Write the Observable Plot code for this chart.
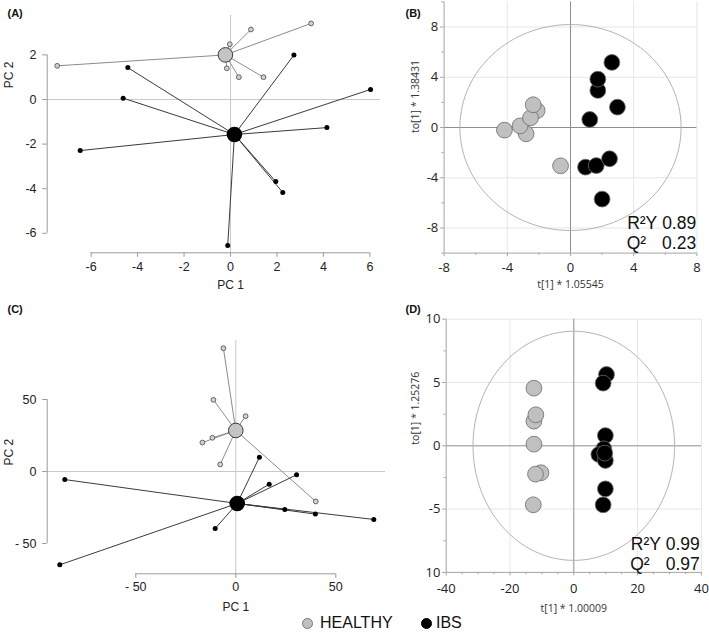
<!DOCTYPE html>
<html>
<head>
<meta charset="utf-8">
<script src="https://cdn.jsdelivr.net/npm/d3@7"></script>
<script src="https://cdn.jsdelivr.net/npm/@observablehq/plot@0.6"></script>
<style>
  body { margin: 0; background: #fff; }
  #wrap { position: relative; width: 709px; height: 632px; overflow: hidden; background: #fff; }
  #wrap svg { position: absolute; left: 0; top: 0; overflow: visible; }
  .lg { position: absolute; font-family: 'Liberation Sans', Arial, sans-serif; font-size: 16px; line-height: 18px; color: #111; }
  .dot { position: absolute; width: 11px; height: 11px; border-radius: 50%; box-sizing: border-box; }
</style>
</head>
<body>
<div id="wrap"></div>
<script>
// ---------------- DATA ----------------
// Panel A (PCA, PC1 vs PC2)
const A_healthy_pc1 = [-7.46, 0.88, 3.47, -0.03, -0.16, 0.36, 1.42];
const A_healthy_pc2 = [1.51, 3.14, 3.41, 2.48, 1.40, 1.00, 1.00];
const A_ibs_pc1 = [-4.42, -4.62, -6.47, 2.73, 6.03, 4.15, 1.95, 2.25, -0.12];
const A_ibs_pc2 = [1.43, 0.06, -2.29, 1.99, 0.45, -1.26, -3.68, -4.17, -6.55];
const A_healthy_centroid = [-0.22, 2.0];
const A_ibs_centroid = [0.17, -1.57];
const A_xticks = [-6, -4, -2, 0, 2, 4, 6];
const A_yticks = [-6, -4, -2, 0, 2];

// Panel B (OPLS-DA scores)
const B_healthy_t = [-2.81, -2.11, -4.18, -3.19, -2.53, -2.36, -0.63];
const B_healthy_to = [-0.50, 1.35, -0.21, 0.13, 0.77, 1.81, -3.05];
const B_ibs_t = [2.62, 1.73, 1.73, 2.97, 1.22, 0.95, 1.63, 2.47, 2.00];
const B_ibs_to = [5.18, 2.95, 3.85, 1.62, 0.64, -3.16, -3.03, -2.49, -5.70];
const B_ellipse = [7.0, 8.2]; // semi-axes (t, to)
const B_xticks = [-8, -4, 0, 4, 8];
const B_yticks = [-8, -4, 0, 4, 8];
const B_xminor = [-6, -2, 2, 6];
const B_yminor = [-10, -6, -2, 2, 6, 10];
const B_xgrid = [-4, 4, 8];
const B_ygrid = [-8, -4, 4, 8];
const B_stats = [["R\u00B2Y", "0.89"], ["Q\u00B2", "0.23"]];

// Panel C (PCA, PC1 vs PC2)
const C_healthy_pc1 = [-6.2, -11.2, 4.9, -11.7, -16.7, -7.8, 40.0];
const C_healthy_pc2 = [85.6, 49.8, 38.4, 23.4, 20.1, 4.9, -20.8];
const C_ibs_pc1 = [-85.5, -88.0, 11.8, 16.7, 30.4, 24.5, 39.8, -10.3, 69.0];
const C_ibs_pc2 = [-5.6, -64.8, 9.9, -8.8, -2.3, -26.4, -29.6, -39.6, -33.3];
const C_healthy_centroid = [0, 28.5];
const C_ibs_centroid = [0.7, -22.2];
const C_xticks = [-50, 0, 50];
const C_yticks = [-50, 0, 50];

// Panel D (OPLS-DA scores)
const D_healthy_t = [-12.5, -12.5, -11.9, -12.5, -10.3, -12.0, -12.7];
const D_healthy_to = [4.55, 1.95, 2.45, 0.13, -2.13, -2.24, -4.66];
const D_ibs_t = [10.25, 9.2, 9.9, 9.4, 7.85, 9.9, 9.7, 9.9, 9.2];
const D_ibs_to = [5.63, 4.95, 0.81, -0.24, -0.69, -1.16, -0.58, -3.4, -4.66];
const D_ellipse = [31.6, 9.05];
const D_xticks = [-40, -20, 0, 20, 40];
const D_yticks = [-10, -5, 0, 5, 10];
const D_ytickLabels = ["10", "-5", "0", "5", "10"];
const D_xminor = [-35, -30, -25, -15, -10, -5, 5, 10, 15, 25, 30, 35];
const D_yminor = [-7.5, -2.5, 2.5, 7.5];
const D_xgrid = [-20, 20, 40];
const D_ygrid = [-5, 5, 10];
const D_stats = [["R\u00B2Y", "0.99"], ["Q\u00B2", "0.97"]];

const groups = ["HEALTHY", "IBS"];

// ---------------- LAYOUT ----------------
const W = 709, H = 632;
const FR = "'Liberation Sans', Arial, sans-serif";
const FS = "'Open Sans', 'Noto Sans', sans-serif";

const frameA = {xz: 230, xppu: 23.23, yz: 99, yppu: 22.3, left: 46.7, right: 380, top: 15, bottom: 252.3};
const frameC = {xz: 235.3, xppu: 2.0, yz: 471, yppu: 1.44, left: 46.7, right: 385, top: 340, bottom: 573.3};
const frameB = {xz: 570, xppu: 15.8, yz: 127, yppu: 12.56, left: 443.6, right: 696.4, top: 1.4, bottom: 252.6};
const frameD = {xz: 573.3, xppu: 3.19, yz: 445.3, yppu: 12.66, left: 445.7, right: 700.9, top: 318.7, bottom: 571.9};

function dom(f) {
  return {
    x0: (f.left - f.xz) / f.xppu, x1: (f.right - f.xz) / f.xppu,
    y0: (f.yz - f.bottom) / f.yppu, y1: (f.yz - f.top) / f.yppu
  };
}

function panel(f, marks) {
  const d = dom(f);
  return Plot.plot({
    width: W, height: H,
    marginLeft: f.left, marginRight: W - f.right, marginTop: f.top, marginBottom: H - f.bottom,
    x: {type: "linear", domain: [d.x0, d.x1], range: [f.left, f.right], axis: null},
    y: {type: "linear", domain: [d.y0, d.y1], range: [f.bottom, f.top], axis: null},
    style: {background: "transparent", overflow: "visible"},
    marks
  });
}

function pts(xs, ys) { return xs.map((x, i) => ({x, y: ys[i]})); }

// R-style PCA panel (A, C)
function pcaPanel(f, o) {
  const d = dom(f);
  const AX = "#9a9a9a";
  const H_ = pts(o.hx, o.hy), I_ = pts(o.ix, o.iy);
  const xt = o.xticks, yt = o.yticks;
  return panel(f, [
    Plot.ruleY([0], {stroke: "#c9c9c9", strokeWidth: 1}),
    Plot.ruleX([0], {stroke: "#c9c9c9", strokeWidth: 1}),
    // axes
    Plot.ruleY([d.y0], {x1: () => xt[0], x2: () => xt[xt.length - 1], stroke: AX}),
    Plot.ruleX(xt, {x: v => v, y1: () => d.y0, y2: () => d.y0 - 4.5 / f.yppu, stroke: AX}),
    Plot.text(xt, {x: v => v, frameAnchor: "bottom", dy: o.xlabDy, text: o.fmt, fontFamily: FR, fontSize: 12.5, fill: "#222", lineAnchor: "middle"}),
    Plot.ruleX([d.x0], {y1: () => yt[0], y2: () => yt[yt.length - 1], stroke: AX}),
    Plot.ruleY(yt, {y: v => v, x1: () => d.x0, x2: () => d.x0 - 4.5 / f.xppu, stroke: AX}),
    Plot.text(yt, {y: v => v, frameAnchor: "left", dx: -10.7, text: o.fmt, textAnchor: "end", fontFamily: FR, fontSize: 12.5, fill: "#222", lineAnchor: "middle"}),
    Plot.text(["PC 1"], {x: () => 0, frameAnchor: "bottom", dy: o.titleDy, text: t => t, fontFamily: FR, fontSize: 12, fill: "#222", lineAnchor: "middle"}),
    Plot.text(["PC 2"], {y: () => o.yTitleY, frameAnchor: "left", dx: o.yTitleDx, rotate: -90, text: t => t, fontFamily: FR, fontSize: 12, fill: "#222", lineAnchor: "middle"}),
    Plot.text([o.tag], {frameAnchor: "top-left", dx: -39.7, dy: o.tagDy, text: t => t, textAnchor: "start", lineAnchor: "middle", fontFamily: FR, fontSize: 11, fontWeight: "bold", fill: "#111"}),
    // healthy
    Plot.link(H_, {x1: () => o.hc[0], y1: () => o.hc[1], x2: "x", y2: "y", stroke: "#8c8c8c", strokeWidth: 1}),
    Plot.dot(H_, {x: "x", y: "y", r: 2.4, fill: "#d2d2d2", stroke: "#555", strokeWidth: 0.9}),
    Plot.dot([o.hc], {x: c => c[0], y: c => c[1], r: 7.3, fill: "#c4c4c4", stroke: "#3a3a3a", strokeWidth: 1}),
    // ibs
    Plot.link(I_, {x1: () => o.ic[0], y1: () => o.ic[1], x2: "x", y2: "y", stroke: "#3a3a3a", strokeWidth: 1}),
    Plot.dot(I_, {x: "x", y: "y", r: 2.5, fill: "#000"}),
    Plot.dot([o.ic], {x: c => c[0], y: c => c[1], r: 7.8, fill: "#000"})
  ]);
}

// SIMCA-style OPLS-DA panel (B, D)
function oplsPanel(f, o) {
  const d = dom(f);
  const AX = "#a4a4a4";
  const H_ = pts(o.hx, o.hy), I_ = pts(o.ix, o.iy);
  const ell = [[o.ell[0], 0], [0, o.ell[1]], [-o.ell[0], 0], [0, -o.ell[1]]];
  // two-line statistics block: label, padding, value
  const pad = ["\u00A0", "\u00A0\u00A0\u00A0\u200A"];
  const statText = o.stats.map(([l, v], i) => l + pad[i] + v).join("\n");
  return panel(f, [
    Plot.ruleX(o.xgrid, {x: v => v, stroke: "#e6e6e6"}),
    Plot.ruleY(o.ygrid, {y: v => v, stroke: "#e6e6e6"}),
    Plot.ruleX([0], {stroke: "#8e8e8e"}),
    Plot.ruleY([0], {stroke: "#8e8e8e"}),
    Plot.ruleX([d.x0], {stroke: AX}),
    Plot.ruleY([d.y0], {stroke: AX}),
    Plot.ruleX(o.xticks, {x: v => v, y1: () => d.y0, y2: () => d.y0 - 3.5 / f.yppu, stroke: AX}),
    Plot.ruleX(o.xminor, {x: v => v, y1: () => d.y0, y2: () => d.y0 - 2.2 / f.yppu, stroke: AX}),
    Plot.ruleY(o.yticks, {y: v => v, x1: () => d.x0, x2: () => d.x0 - 3.5 / f.xppu, stroke: AX}),
    Plot.ruleY(o.yminor, {y: v => v, x1: () => d.x0, x2: () => d.x0 - 2.2 / f.xppu, stroke: AX}),
    Plot.text(o.xticks, {x: v => v, frameAnchor: "bottom", dy: o.xlabDy, text: v => String(v), fontFamily: FS, fontSize: 13, fill: "#222", lineAnchor: "middle"}),
    Plot.text(o.yticks, {y: v => v, frameAnchor: "left", dx: -5.8, text: o.yfmt, textAnchor: "end", fontFamily: FS, fontSize: 13, fill: "#222", lineAnchor: "middle"}),
    Plot.text([o.xtitle], {x: () => 0, frameAnchor: "bottom", dy: o.titleDy, text: t => t, fontFamily: FS, fontSize: 10.5, fill: "#333", lineAnchor: "middle"}),
    Plot.text([o.ytitle], {y: () => o.yTitleY, frameAnchor: "left", dx: o.yTitleDx, rotate: -90, text: t => t, fontFamily: FS, fontSize: 10.5, fill: "#333", lineAnchor: "middle"}),
    Plot.text([o.tag], {frameAnchor: "top-left", dx: o.tagDx, dy: o.tagDy, text: t => t, textAnchor: "start", lineAnchor: "middle", fontFamily: FR, fontSize: 11, fontWeight: "bold", fill: "#111"}),
    Plot.line(ell, {x: p => p[0], y: p => p[1], curve: d3.curveCardinalClosed.tension(-0.6568), stroke: "#b4b4b4", strokeWidth: 1}),
    Plot.dot(H_, {x: "x", y: "y", r: 7.9, fill: "#c0c0c0", stroke: "#6a6a6a", strokeWidth: 0.8}),
    Plot.dot(I_, {x: "x", y: "y", r: 7.9, fill: "#000", stroke: "#6a6a6a", strokeWidth: 0.8}),
    Plot.text([statText], {frameAnchor: "bottom-right", dx: o.statDx, dy: o.statDy, text: t => t, textAnchor: "end", lineAnchor: "middle", lineHeight: 20 / 17.5, fontFamily: FR, fontSize: 17.5, fill: "#111"})
  ]);
}

const wrap = document.getElementById("wrap");

wrap.append(pcaPanel(frameA, {
  hx: A_healthy_pc1, hy: A_healthy_pc2, ix: A_ibs_pc1, iy: A_ibs_pc2,
  hc: A_healthy_centroid, ic: A_ibs_centroid,
  xticks: A_xticks, yticks: A_yticks, fmt: v => String(v),
  xlabDy: 14.4, titleDy: 32.2, yTitleY: 0.5, yTitleDx: -37.7, tag: "(A)", tagDy: -1.7
}));

wrap.append(pcaPanel(frameC, {
  hx: C_healthy_pc1, hy: C_healthy_pc2, ix: C_ibs_pc1, iy: C_ibs_pc2,
  hc: C_healthy_centroid, ic: C_ibs_centroid,
  xticks: C_xticks, yticks: C_yticks, fmt: v => (v < 0 ? "- " + Math.abs(v) : String(v)),
  xlabDy: 13.4, titleDy: 33.4, yTitleY: 4.2, yTitleDx: -37.7, tag: "(C)", tagDy: -30.7
}));

wrap.append(oplsPanel(frameB, {
  hx: B_healthy_t, hy: B_healthy_to, ix: B_ibs_t, iy: B_ibs_to, ell: B_ellipse,
  xticks: B_xticks, yticks: B_yticks, xminor: B_xminor, yminor: B_yminor, xgrid: B_xgrid, ygrid: B_ygrid,
  yfmt: v => String(v),
  xtitle: "t[1] * 1.05545", ytitle: "to[1] * 1.38431",
  xlabDy: 14.9, titleDy: 31.7, yTitleY: -0.44, yTitleDx: -28.6,
  tag: "(B)", tagDx: -38.6, tagDy: 11.3,
  stats: B_stats, statDx: -0.7, statDy: -20.1
}));

wrap.append(oplsPanel(frameD, {
  hx: D_healthy_t, hy: D_healthy_to, ix: D_ibs_t, iy: D_ibs_to, ell: D_ellipse,
  xticks: D_xticks, yticks: D_yticks, xminor: D_xminor, yminor: D_yminor, xgrid: D_xgrid, ygrid: D_ygrid,
  yfmt: (v, i) => D_ytickLabels[i],
  xtitle: "t[1] * 1.00009", ytitle: "to[1] * 1.25276",
  xlabDy: 16.4, titleDy: 36.4, yTitleY: 0.09, yTitleDx: -30.7,
  tag: "(D)", tagDx: -40.7, tagDy: -9.4,
  stats: D_stats, statDx: -1.6, statDy: -18.9
}));

// legend
const legendPos = [{x: 307, fill: "#c0c0c0", stroke: "#7a7a7a", tx: 320}, {x: 426, fill: "#000", stroke: "#000", tx: 436}];
groups.forEach((g, i) => {
  const p = legendPos[i];
  const dot = document.createElement("div");
  dot.className = "dot";
  dot.style.left = (p.x - 5.5) + "px";
  dot.style.top = (623 - 5.5) + "px";
  dot.style.background = p.fill;
  dot.style.border = "1px solid " + p.stroke;
  wrap.append(dot);
  const t = document.createElement("div");
  t.className = "lg";
  t.style.left = p.tx + "px";
  t.style.top = (623 - 9) + "px";
  t.textContent = g;
  wrap.append(t);
});
</script>
</body>
</html>
